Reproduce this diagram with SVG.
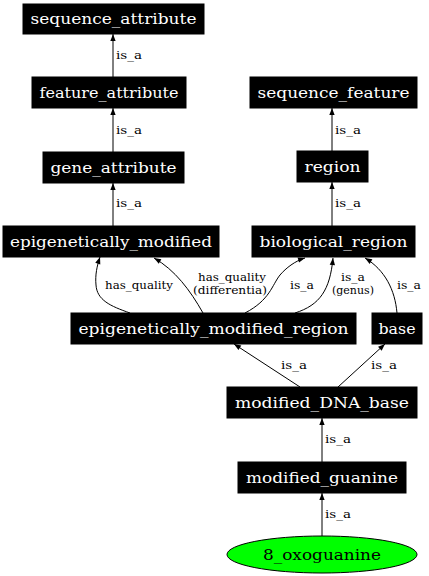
<svg xmlns="http://www.w3.org/2000/svg" width="429" height="576" viewBox="0 0 429 576">
<defs>
<style>
.n rect{fill:#000;stroke:#000}
.n text{fill:#fff;font-family:"DejaVu Serif",serif;font-size:15px;text-anchor:middle}
.e path{fill:none;stroke:#000;stroke-width:1}
.e text{fill:#000;font-family:"DejaVu Serif",serif;font-size:11px;text-anchor:middle}
</style>
<marker id="ah" viewBox="0 0 10 10" refX="10" refY="5" markerWidth="9" markerHeight="7" markerUnits="userSpaceOnUse" orient="auto"><path d="M0,1.2 L10,5 L0,8.8 Z" fill="#000"/></marker>
</defs>
<rect width="429" height="576" fill="#fff"/>
<g class="e" id="edges">
<path d="M113,77 L113,34" marker-end="url(#ah)"/><text x="129" y="59" textLength="26" lengthAdjust="spacingAndGlyphs">is_a</text>
<path d="M113,152 L113,108" marker-end="url(#ah)"/><text x="129" y="134" textLength="26" lengthAdjust="spacingAndGlyphs">is_a</text>
<path d="M113,226 L113,183" marker-end="url(#ah)"/><text x="129" y="207" textLength="26" lengthAdjust="spacingAndGlyphs">is_a</text>
<path d="M332,151 L332,108" marker-end="url(#ah)"/><text x="348" y="134" textLength="26" lengthAdjust="spacingAndGlyphs">is_a</text>
<path d="M332,226 L332,182" marker-end="url(#ah)"/><text x="348" y="207" textLength="26" lengthAdjust="spacingAndGlyphs">is_a</text>
<path d="M130,313 C110,306 97,300 96,285 C95,275 97,266 100,257" marker-end="url(#ah)"/><text x="139" y="289" textLength="68" lengthAdjust="spacingAndGlyphs">has_quality</text>
<path d="M203,313 C190,290 175,270 154,258" marker-end="url(#ah)"/><text x="232" y="281" textLength="68" lengthAdjust="spacingAndGlyphs">has_quality</text><text x="230" y="294" textLength="74" lengthAdjust="spacingAndGlyphs">(differentia)</text>
<path d="M245,313 C270,300 272,285 280,275 C286,268 295,261 305,258" marker-end="url(#ah)"/><text x="302" y="289" textLength="24" lengthAdjust="spacingAndGlyphs">is_a</text>
<path d="M295,313 C320,305 330,290 333,258" marker-end="url(#ah)"/><text x="353" y="281" textLength="24" lengthAdjust="spacingAndGlyphs">is_a</text><text x="353" y="294" textLength="42" lengthAdjust="spacingAndGlyphs">(genus)</text>
<path d="M397,313 C395,290 385,270 365,258" marker-end="url(#ah)"/><text x="409" y="289" textLength="24" lengthAdjust="spacingAndGlyphs">is_a</text>
<path d="M300,387 L234,344" marker-end="url(#ah)"/><text x="294" y="369" textLength="26" lengthAdjust="spacingAndGlyphs">is_a</text>
<path d="M338,387 L385,344" marker-end="url(#ah)"/><text x="384" y="369" textLength="26" lengthAdjust="spacingAndGlyphs">is_a</text>
<path d="M322,462 L322,418" marker-end="url(#ah)"/><text x="338" y="443" textLength="26" lengthAdjust="spacingAndGlyphs">is_a</text>
<path d="M322,536 L322,493" marker-end="url(#ah)"/><text x="338" y="518" textLength="26" lengthAdjust="spacingAndGlyphs">is_a</text>
</g>
<g class="n" id="sequence_attribute"><rect x="23" y="4" width="181" height="30"/><text x="113.5" y="24" textLength="166" lengthAdjust="spacingAndGlyphs">sequence_attribute</text></g>
<g class="n" id="feature_attribute"><rect x="32" y="77" width="154" height="31"/><text x="109" y="97.5" textLength="139" lengthAdjust="spacingAndGlyphs">feature_attribute</text></g>
<g class="n" id="gene_attribute"><rect x="43" y="152" width="141" height="31"/><text x="113.5" y="172.5" textLength="126" lengthAdjust="spacingAndGlyphs">gene_attribute</text></g>
<g class="n" id="epigenetically_modified"><rect x="3" y="226" width="216" height="31"/><text x="111" y="246.5" textLength="202" lengthAdjust="spacingAndGlyphs">epigenetically_modified</text></g>
<g class="n" id="sequence_feature"><rect x="250" y="77" width="167" height="31"/><text x="333.5" y="97.5" textLength="152" lengthAdjust="spacingAndGlyphs">sequence_feature</text></g>
<g class="n" id="region"><rect x="297" y="151" width="71" height="31"/><text x="332.5" y="171.5" textLength="56" lengthAdjust="spacingAndGlyphs">region</text></g>
<g class="n" id="biological_region"><rect x="252" y="226" width="163" height="31"/><text x="333.5" y="246.5" textLength="148" lengthAdjust="spacingAndGlyphs">biological_region</text></g>
<g class="n" id="epigenetically_modified_region"><rect x="71" y="313" width="285" height="31"/><text x="213.5" y="333.5" textLength="270" lengthAdjust="spacingAndGlyphs">epigenetically_modified_region</text></g>
<g class="n" id="base"><rect x="372" y="313" width="50" height="31"/><text x="397" y="333.5" textLength="37" lengthAdjust="spacingAndGlyphs">base</text></g>
<g class="n" id="modified_DNA_base"><rect x="227" y="387" width="190" height="31"/><text x="322" y="407.5" textLength="174" lengthAdjust="spacingAndGlyphs">modified_DNA_base</text></g>
<g class="n" id="modified_guanine"><rect x="238" y="462" width="168" height="31"/><text x="322" y="482.5" textLength="152" lengthAdjust="spacingAndGlyphs">modified_guanine</text></g>
<g id="8_oxoguanine"><ellipse cx="322" cy="554.5" rx="95" ry="18.5" fill="#00ff00" stroke="#000"/><text x="322" y="559.5" font-family="DejaVu Serif, serif" font-size="15" text-anchor="middle" fill="#000" textLength="118" lengthAdjust="spacingAndGlyphs">8_oxoguanine</text></g>
</svg>
